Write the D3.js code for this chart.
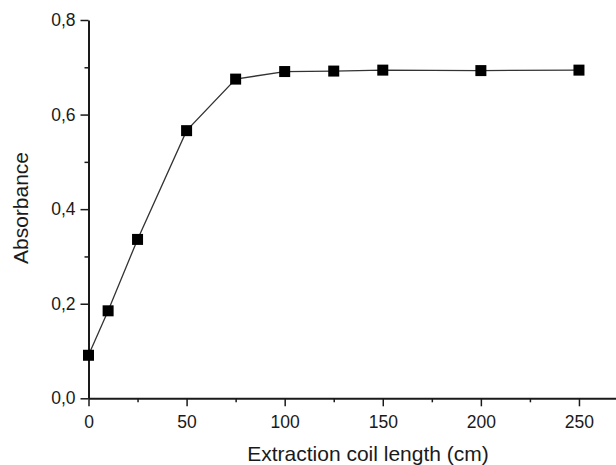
<!DOCTYPE html>
<html>
<head>
	<meta charset="utf-8">
	<title>Absorbance vs extraction coil length</title>
	<script src="https://cdn.jsdelivr.net/npm/d3@7"></script>
	<style>
		body { margin: 0; background: #fff; font-family: Arial, "Liberation Sans", Helvetica, sans-serif; }
	</style>
</head>
<body>
	<div id="chart"></div>
	<script>

	// data
	const coilLength = [0, 10, 25, 50, 75, 100, 125, 150, 200, 250];
	const absorbance = [0.091, 0.185, 0.336, 0.566, 0.675, 0.691, 0.692, 0.694, 0.693, 0.694];

	const xTicks      = [0, 50, 100, 150, 200, 250];
	const xMinorTicks = [25, 75, 125, 175, 225];
	const yTicks      = [0, 0.2, 0.4, 0.6, 0.8];
	const yMinorTicks = [0.1, 0.3, 0.5, 0.7];

	const xLabel = "Extraction coil length (cm)";
	const yLabel = "Absorbance";

	const width  = 616;
	const height = 465;
	const tickFont  = "17.5px";
	const titleFont = "21px";
	const ink = "#1a1a1a";

	const x = d3.scaleLinear().domain([0, 270]).range([88.5, 618.2]);
	const y = d3.scaleLinear().domain([0, 0.8]).range([398.3, 20]);

	const fmt = d => d3.format(".1f")(d).replace(".", ",");

	const svg = d3.select("#chart")
		.append("svg")
		.attr("width", width)
		.attr("height", height)
		.attr("viewBox", [0, 0, width, height]);

	// x axis
	svg.append("g")
		.attr("transform", `translate(0,${y(0)})`)
		.call(d3.axisBottom(x).tickValues(xMinorTicks).tickSize(4).tickFormat("").tickSizeOuter(0))
		.call(g => g.select(".domain").remove())
		.call(g => g.selectAll("line").attr("stroke", ink).attr("stroke-width", 1.5));

	svg.append("g")
		.attr("transform", `translate(0,${y(0)})`)
		.call(d3.axisBottom(x).tickValues(xTicks).tickSize(8).tickPadding(9).tickSizeOuter(0))
		.call(g => g.select(".domain").attr("stroke", ink).attr("stroke-width", 2))
		.call(g => g.selectAll(".tick line").attr("stroke", ink).attr("stroke-width", 1.5))
		.call(g => g.selectAll("text").attr("fill", ink).style("font-size", tickFont).style("font-family", "Arial, 'Liberation Sans', sans-serif"));

	// y axis
	svg.append("g")
		.attr("transform", `translate(${x(0)},0)`)
		.call(d3.axisLeft(y).tickValues(yMinorTicks).tickSize(4).tickFormat("").tickSizeOuter(0))
		.call(g => g.select(".domain").remove())
		.call(g => g.selectAll("line").attr("stroke", ink).attr("stroke-width", 1.5));

	svg.append("g")
		.attr("transform", `translate(${x(0)},0)`)
		.call(d3.axisLeft(y).tickValues(yTicks).tickFormat(fmt).tickSize(8).tickPadding(5).tickSizeOuter(0))
		.call(g => g.select(".domain").attr("stroke", ink).attr("stroke-width", 2))
		.call(g => g.selectAll(".tick line").attr("stroke", ink).attr("stroke-width", 1.5))
		.call(g => g.selectAll("text").attr("fill", ink).style("font-size", tickFont).style("font-family", "Arial, 'Liberation Sans', sans-serif"));

	// axis titles
	svg.append("text")
		.attr("x", 368)
		.attr("y", 461)
		.attr("text-anchor", "middle")
		.attr("fill", ink)
		.style("font-size", titleFont)
		.text(xLabel);

	svg.append("text")
		.attr("transform", `translate(28,208) rotate(-90)`)
		.attr("text-anchor", "middle")
		.attr("fill", ink)
		.style("font-size", titleFont)
		.text(yLabel);

	// line + markers
	const I = d3.range(coilLength.length);
	const line = d3.line()
		.x(i => x(coilLength[i]))
		.y(i => y(absorbance[i]));

	svg.append("path")
		.attr("fill", "none")
		.attr("stroke", "#333")
		.attr("stroke-width", 1.3)
		.attr("d", line(I));

	const size = 11;
	svg.append("g")
		.selectAll("rect")
		.data(I)
		.join("rect")
		.attr("x", i => x(coilLength[i]) - size / 2)
		.attr("y", i => y(absorbance[i]) - size / 2)
		.attr("width", size)
		.attr("height", size)
		.attr("fill", "#000");

	</script>
</body>
</html>
